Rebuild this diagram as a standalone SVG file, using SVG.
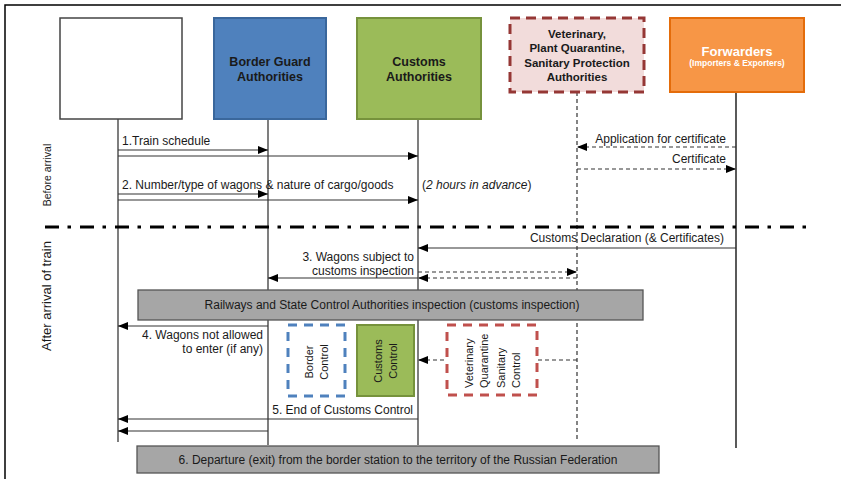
<svg xmlns="http://www.w3.org/2000/svg" width="843" height="479" viewBox="0 0 843 479">
<style>
text{font-family:"Liberation Sans",Arial,sans-serif;fill:#1a1a1a}
.hd{font-weight:bold;font-size:12.5px;text-anchor:middle}
.vh{font-size:11.5px}
.lb{font-size:12px}
.end{text-anchor:end}
.mid{text-anchor:middle}
.life{stroke:#3a3a3a;stroke-width:1.3;fill:none}
.arr{stroke:#333;stroke-width:1.2;fill:none;marker-end:url(#ah)}
.darr{stroke:#333;stroke-width:1.2;fill:none;stroke-dasharray:4 3;marker-end:url(#ah)}
.rot{font-size:11px}
</style>
<defs>
<marker id="ah" viewBox="0 0 10 8" refX="10" refY="4" markerWidth="10" markerHeight="8" markerUnits="userSpaceOnUse" orient="auto">
<path d="M0,0L10,4L0,8z" fill="#000"/>
</marker>
</defs>
<rect width="843" height="479" fill="#fff"/>
<path d="M5,479V5H841" stroke="#000" stroke-width="1.5" fill="none"/>

<g id="lifelines">
<line class="life" x1="118" y1="119" x2="118" y2="442"/>
<line class="life" x1="268" y1="119" x2="268" y2="445"/>
<line class="life" x1="418" y1="119" x2="418" y2="445"/>
<line x1="577" y1="92" x2="577" y2="442" stroke="#333" stroke-width="1.2" stroke-dasharray="4 3"/>
<line x1="736" y1="92" x2="736" y2="448" stroke="#000" stroke-width="1.3"/>
</g>

<g id="node-train">
<rect x="60" y="18" width="122" height="101" fill="#fff" stroke="#444" stroke-width="1.5"/>
</g>
<g id="node-border-guard">
<rect x="214" y="18" width="112" height="101" fill="#4F81BD" stroke="#3A679C" stroke-width="2"/>
<text class="hd" x="270" y="66">Border Guard</text>
<text class="hd" x="270" y="81">Authorities</text>
</g>
<g id="node-customs">
<rect x="357" y="18" width="124" height="101" fill="#9BBB59" stroke="#76923C" stroke-width="2"/>
<text class="hd" x="419" y="66">Customs</text>
<text class="hd" x="419" y="81">Authorities</text>
</g>
<g id="node-veterinary">
<rect x="510" y="18" width="134" height="74" fill="#F2DCDB" stroke="#953735" stroke-width="3" stroke-dasharray="10 6"/>
<text class="hd vh" x="577" y="38">Veterinary,</text>
<text class="hd vh" x="577" y="52">Plant Quarantine,</text>
<text class="hd vh" x="577" y="67">Sanitary Protection</text>
<text class="hd vh" x="577" y="81">Authorities</text>
</g>
<g id="node-forwarders">
<rect x="670" y="18" width="134" height="74" fill="#F79646" stroke="#E46C0A" stroke-width="2"/>
<text class="hd" x="737" y="56" style="fill:#fff;font-size:13px">Forwarders</text>
<text class="hd" x="737" y="66" style="fill:#fff;font-size:8.5px">(Importers &amp; Exporters)</text>
</g>

<g id="phase-labels">
<text class="mid" transform="translate(51,175) rotate(-90)" style="font-size:10.5px">Before arrival</text>
<text class="mid" transform="translate(51,296) rotate(-90)" style="font-size:13px">After arrival of train</text>
</g>

<line id="separator" x1="45" y1="227" x2="815" y2="227" stroke="#000" stroke-width="3" stroke-dasharray="14 8.5 3.5 9"/>

<g id="connectors">
<line class="arr" x1="118" y1="150" x2="268" y2="150"/>
<line class="arr" x1="118" y1="156" x2="418" y2="156"/>
<line class="arr" x1="118" y1="194" x2="268" y2="194"/>
<line class="arr" x1="118" y1="200" x2="418" y2="200"/>
<line class="darr" x1="736" y1="147" x2="577" y2="147"/>
<line class="darr" x1="577" y1="169" x2="736" y2="169"/>
<line class="arr" x1="736" y1="248" x2="418" y2="248"/>
<line class="darr" x1="418" y1="272" x2="577" y2="272"/>
<line class="darr" x1="577" y1="278" x2="418" y2="278"/>
<line class="arr" x1="418" y1="278" x2="268" y2="278"/>
<line class="arr" x1="268" y1="326" x2="118" y2="326"/>
<line class="darr" x1="577" y1="360" x2="418" y2="360"/>
<line class="arr" x1="418" y1="419" x2="118" y2="419"/>
<line class="arr" x1="268" y1="431" x2="118" y2="431"/>
</g>

<g id="labels">
<text class="lb" x="122" y="145">1.Train schedule</text>
<text class="lb" x="122" y="189">2. Number/type of wagons &amp; nature of cargo/goods</text>
<text class="lb" x="422" y="189">(<tspan font-style="italic">2 hours in advance</tspan>)</text>
<text class="lb end" x="726" y="143">Application for certificate</text>
<text class="lb end" x="726" y="163">Certificate</text>
<text class="lb end" x="724" y="242">Customs Declaration (&amp; Certificates)</text>
<text class="lb end" x="414" y="261">3. Wagons subject to</text>
<text class="lb end" x="414" y="275">customs inspection</text>
<text class="lb end" x="263" y="339">4. Wagons not allowed</text>
<text class="lb end" x="263" y="353">to enter (if any)</text>
<text class="lb end" x="413" y="414">5. End of Customs Control</text>
</g>

<g id="node-inspection">
<rect x="138" y="290" width="505" height="30" fill="#A6A6A6" stroke="#555" stroke-width="1.3"/>
<text class="lb mid" x="392" y="309">Railways and State Control Authorities inspection (customs inspection)</text>
</g>
<g id="node-border-control">
<rect x="288" y="325" width="57" height="71" fill="#fff" stroke="#4F81BD" stroke-width="3" stroke-dasharray="9 7"/>
<text class="rot mid" transform="translate(313,362) rotate(-90)">Border</text>
<text class="rot mid" transform="translate(328,362) rotate(-90)">Control</text>
</g>
<g id="node-customs-control">
<rect x="357" y="325" width="57" height="71" fill="#9BBB59" stroke="#76923C" stroke-width="2"/>
<text class="rot mid" transform="translate(382,361) rotate(-90)">Customs</text>
<text class="rot mid" transform="translate(397,361) rotate(-90)">Control</text>
</g>
<g id="node-vet-control">
<rect x="447" y="325" width="90" height="70" fill="#fff" stroke="#C0504D" stroke-width="3" stroke-dasharray="9 7"/>
<text class="rot" transform="translate(473,388) rotate(-90)">Veterinary</text>
<text class="rot" transform="translate(488,388) rotate(-90)">Quarantine</text>
<text class="rot" transform="translate(505,388) rotate(-90)">Sanitary</text>
<text class="rot" transform="translate(520,388) rotate(-90)">Control</text>
</g>
<g id="node-departure">
<rect x="137" y="446" width="522" height="27" fill="#A6A6A6" stroke="#555" stroke-width="1.3"/>
<text class="lb mid" x="398" y="464">6. Departure (exit) from the border station to the territory of the Russian Federation</text>
</g>
</svg>
